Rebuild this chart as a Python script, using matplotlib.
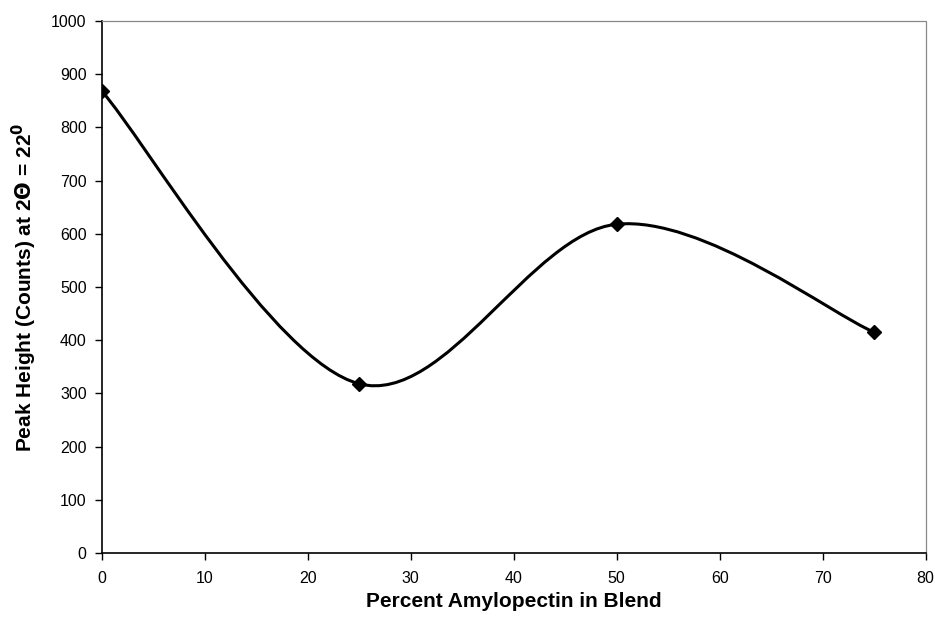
import numpy as np
import matplotlib
matplotlib.use("Agg")
import matplotlib.pyplot as plt
from matplotlib.path import Path
from matplotlib.patches import PathPatch

percent_amylopectin = [0, 25, 50, 75]
peak_height = [868, 318, 618, 415]
x_ticks = [0, 10, 20, 30, 40, 50, 60, 70, 80]
y_ticks = [0, 100, 200, 300, 400, 500, 600, 700, 800, 900, 1000]

plt.rcParams['font.family'] = ['Liberation Sans', 'DejaVu Sans']

fig = plt.figure(figsize=(9.35, 6.27), dpi=100)
ax = fig.add_axes([0.109, 0.118, 0.881, 0.8485])

# Excel-style smoothed line (cubic Bezier with tension 1/6)
xs = np.array(percent_amylopectin, float)
ys = np.array(peak_height, float)
pts = np.column_stack([xs, ys])
n = len(pts)
verts = [tuple(pts[0])]
codes = [Path.MOVETO]
for i in range(n - 1):
    p0 = pts[i - 1] if i > 0 else pts[i]
    p1 = pts[i]
    p2 = pts[i + 1]
    p3 = pts[i + 2] if i + 2 < n else pts[i + 1]
    c1 = p1 + (p2 - p0) / 6.0
    c2 = p2 - (p3 - p1) / 6.0
    verts += [tuple(c1), tuple(c2), tuple(p2)]
    codes += [Path.CURVE4] * 3
ax.add_patch(PathPatch(Path(verts, codes), facecolor='none', edgecolor='black', lw=2.2, zorder=2))
ax.plot(xs, ys, linestyle='none', marker='D', markersize=7, color='black', zorder=3)

ax.set_xlim(0, 80)
ax.set_ylim(0, 1000)
ax.set_xticks(x_ticks)
ax.set_yticks(y_ticks)
ax.tick_params(direction='out', length=5, width=1, labelsize=11.5, colors='black', pad=6)
ax.tick_params(axis='x', pad=8)

for s in ['left', 'bottom']:
    ax.spines[s].set_color('black')
    ax.spines[s].set_linewidth(1.2)
for s in ['top', 'right']:
    ax.spines[s].set_color('#888888')
    ax.spines[s].set_linewidth(0.9)
    ax.spines[s].set_linestyle((0, (1, 1)))

ax.set_xlabel('Percent Amylopectin in Blend', fontsize=15, fontweight='bold', labelpad=4)
ax.set_ylabel(r'Peak Height (Counts) at 2$\mathbf{\Theta}$ = 22$^{\mathbf{0}}$', fontsize=15, fontweight='bold', labelpad=9)

fig.savefig('out.png', dpi=100)
